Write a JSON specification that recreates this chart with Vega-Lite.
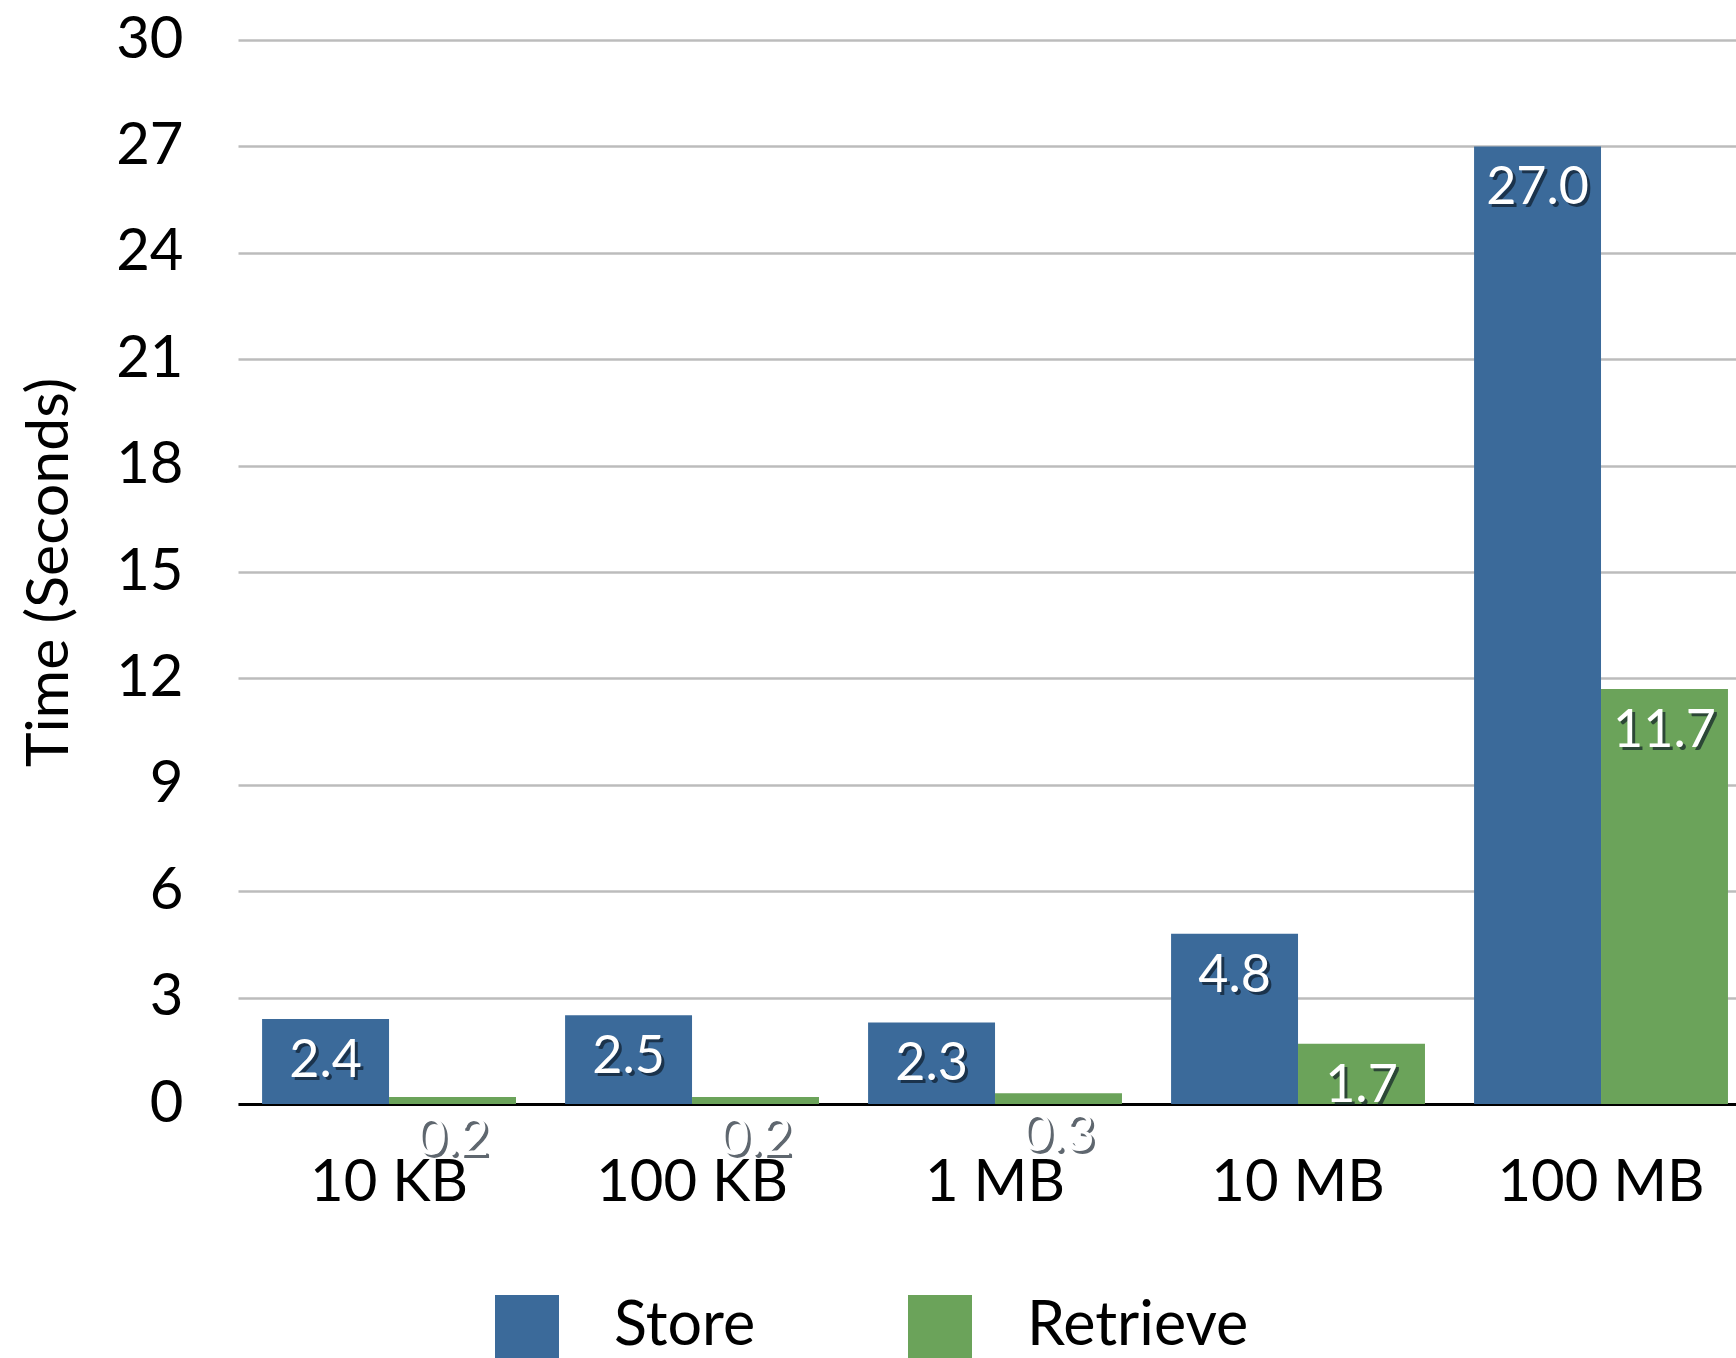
{
  "$schema": "https://vega.github.io/schema/vega-lite/v6.json",
  "autosize": {"type": "none"},
  "padding": {"left": 238, "top": 40, "right": 0, "bottom": 254},
  "width": 1498,
  "height": 1064,
  "background": "white",
  "config": {
    "view": {"stroke": null},
    "font": "Lato",
    "axis": {"labelFont": "Lato", "titleFont": "Lato", "labelColor": "black", "titleColor": "black", "titleFontWeight": "normal"},
    "legend": {"labelFont": "Lato"}
  },
  "data": {
    "values": [
      {"size": "10 KB", "series": "Store", "time": 2.4},
      {"size": "10 KB", "series": "Retrieve", "time": 0.2},
      {"size": "100 KB", "series": "Store", "time": 2.5},
      {"size": "100 KB", "series": "Retrieve", "time": 0.2},
      {"size": "1 MB", "series": "Store", "time": 2.3},
      {"size": "1 MB", "series": "Retrieve", "time": 0.3},
      {"size": "10 MB", "series": "Store", "time": 4.8},
      {"size": "10 MB", "series": "Retrieve", "time": 1.7},
      {"size": "100 MB", "series": "Store", "time": 27.0},
      {"size": "100 MB", "series": "Retrieve", "time": 11.7}
    ]
  },
  "encoding": {
    "x": {
      "field": "size", "type": "nominal",
      "sort": ["10 KB", "100 KB", "1 MB", "10 MB", "100 MB"],
      "scale": {"paddingInner": 0.162, "paddingOuter": 0.053, "align": 0.75},
      "axis": {
        "title": null, "labelAngle": 0, "labelFontSize": 58, "labelPadding": 50, "labelLimit": 0,
        "ticks": false, "domain": true, "domainColor": "black", "domainWidth": 3,
        "grid": false, "zindex": 0
      }
    },
    "xOffset": {"field": "series", "type": "nominal", "sort": ["Store", "Retrieve"], "scale": {"paddingInner": 0, "paddingOuter": 0}},
    "y": {
      "field": "time", "type": "quantitative",
      "scale": {"domain": [0, 30], "nice": false},
      "axis": {
        "title": "Time (Seconds)", "titleFontSize": 59, "titlePadding": 36,
        "values": [0, 3, 6, 9, 12, 15, 18, 21, 24, 27, 30],
        "labelFontSize": 58, "labelPadding": 55, "ticks": false, "domain": false,
        "grid": true, "gridColor": "#bcbcbc", "gridWidth": 2.5, "zindex": 0
      }
    }
  },
  "layer": [
    {
      "mark": {"type": "bar"},
      "encoding": {
        "color": {
          "field": "series", "type": "nominal",
          "sort": ["Store", "Retrieve"],
          "scale": {"domain": ["Store", "Retrieve"], "range": ["#3b6a9a", "#6ba35a"]},
          "legend": {
            "title": null, "orient": "none", "direction": "horizontal",
            "legendX": 257, "legendY": 1255, "padding": 0,
            "symbolType": "square", "symbolSize": 4096, "symbolStrokeWidth": 0,
            "labelFontSize": 61, "labelOffset": 55, "columnPadding": 152, "labelLimit": 0,
            "labelColor": "black", "labelBaseline": "middle"
          }
        }
      }
    },
    {
      "mark": {"type": "text", "baseline": "middle", "align": "center", "dy": 45, "dx": 3, "fontSize": 52, "color": "#0b1723", "opacity": 0.65},
      "encoding": {"text": {"field": "time", "type": "quantitative", "format": ".1f"}}
    },
    {
      "mark": {"type": "text", "baseline": "middle", "align": "center", "dy": 42, "fontSize": 52, "color": "white"},
      "encoding": {"text": {"field": "time", "type": "quantitative", "format": ".1f"}}
    }
  ]
}
